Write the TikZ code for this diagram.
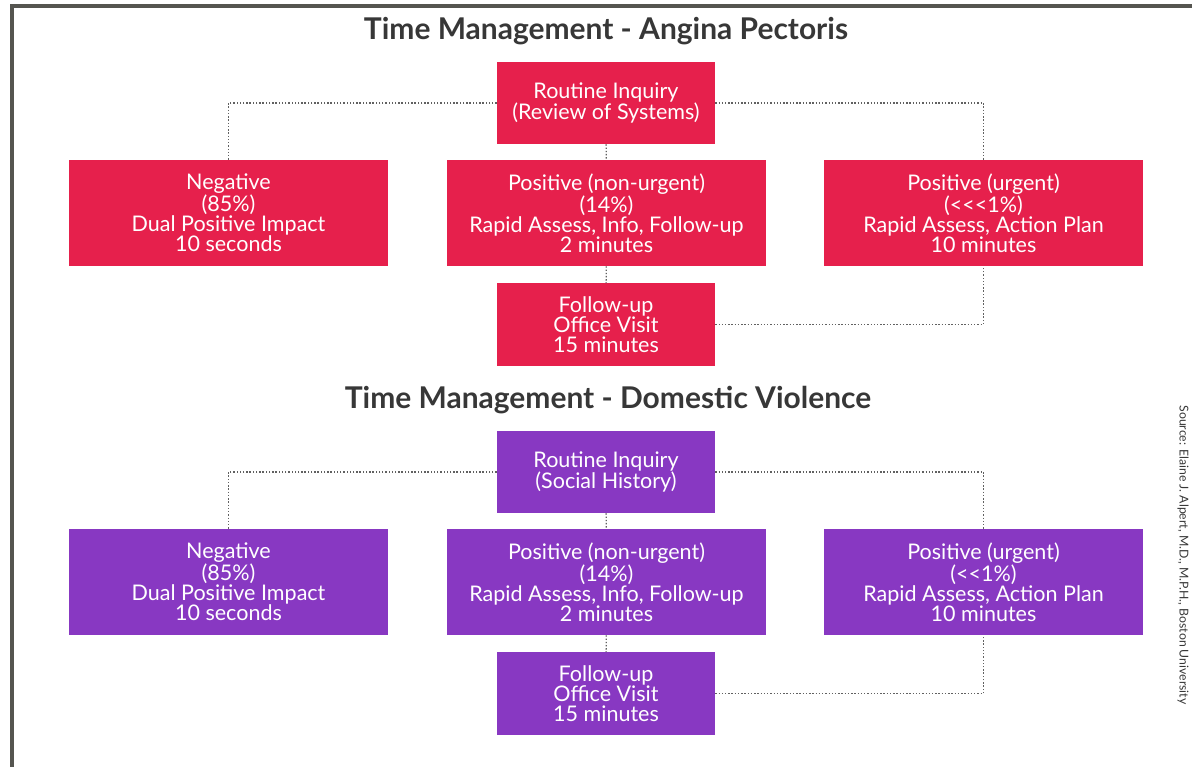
\documentclass[tikz,border=0pt]{standalone}
\usepackage{fontspec}
\setmainfont{Lato}
\usepackage{xcolor}
\definecolor{angina-red}{RGB}{230,32,76}
\definecolor{dv-purple}{RGB}{136,56,194}
\definecolor{title-grey}{RGB}{55,55,55}
\definecolor{frame-grey}{RGB}{85,85,80}
\usepackage{tikz}

\begin{document}
\begin{tikzpicture}[x=0.025cm,y=-0.025cm,
	box/.style={text=white,align=center,inner sep=0pt,
		font=\fontsize{15.3}{14.3}\selectfont},
	small/.style={box,minimum width=5.45cm,minimum height=2.05cm},
	big/.style={box,minimum width=7.95cm,minimum height=2.65cm},
	heading/.style={text=title-grey,font=\fontsize{21.3}{24}\selectfont\bfseries},
	dotline/.style={draw=black!62,line width=1pt,dash pattern=on 1pt off 1.3pt}]
	\useasboundingbox (0,0) rectangle (1192,767);
	\draw[frame-grey,line width=2.8pt] (12,767) |- (1192,6);

	\node[heading] (T) at (606,31) {Time Management - Angina Pectoris};

	\node[small,fill=angina-red] (Inq) at (606,103)
		{Routine Inquiry\\(Review of Systems)};
	\node[big,fill=angina-red] (Neg) at (228.5,213)
		{Negative\\(85\%)\\Dual Positive Impact\\10 seconds};
	\node[big,fill=angina-red] (NonUrg) at (606.5,213)
		{Positive (non-urgent)\\(14\%)\\Rapid Assess, Info, Follow-up\\2 minutes};
	\node[big,fill=angina-red] (Urg) at (983.5,213)
		{Positive (urgent)\\(<{}<{}<1\%)\\Rapid Assess, Action Plan\\10 minutes};
	\node[small,fill=angina-red] (Visit) at (606,324.5)
		{Follow-up\\Office Visit\\15 minutes};

	\draw[dotline] (Inq.west) -| (Neg.north);
	\draw[dotline] (Inq.east) -| (Urg.north);
	\draw[dotline] (Inq) -- (NonUrg);
	\draw[dotline] (NonUrg) -- (Visit);
	\draw[dotline] (Visit.east) -| (Urg.south);

%	=======================================

	\node[heading] (T1) at (608,400) {Time Management - Domestic Violence};

	\node[small,fill=dv-purple] (Inq1) at (606,472)
		{Routine Inquiry\\(Social History)};
	\node[big,fill=dv-purple] (Neg1) at (228.5,582)
		{Negative\\(85\%)\\Dual Positive Impact\\10 seconds};
	\node[big,fill=dv-purple] (NonUrg1) at (606.5,582)
		{Positive (non-urgent)\\(14\%)\\Rapid Assess, Info, Follow-up\\2 minutes};
	\node[big,fill=dv-purple] (Urg1) at (983.5,582)
		{Positive (urgent)\\(<{}<1\%)\\Rapid Assess, Action Plan\\10 minutes};
	\node[small,fill=dv-purple] (Visit1) at (606,693.5)
		{Follow-up\\Office Visit\\15 minutes};

	\draw[dotline] (Inq1.west) -| (Neg1.north);
	\draw[dotline] (Inq1.east) -| (Urg1.north);
	\draw[dotline] (Inq1) -- (NonUrg1);
	\draw[dotline] (NonUrg1) -- (Visit1);
	\draw[dotline] (Visit1.east) -| (Urg1.south);

	\node[rotate=-90,text=title-grey,font=\fontsize{8.7}{10}\selectfont] (Src)
		at (1183,555) {Source: Elaine J. Alpert, M.D., M.P.H., Boston University};
\end{tikzpicture}
\end{document}
